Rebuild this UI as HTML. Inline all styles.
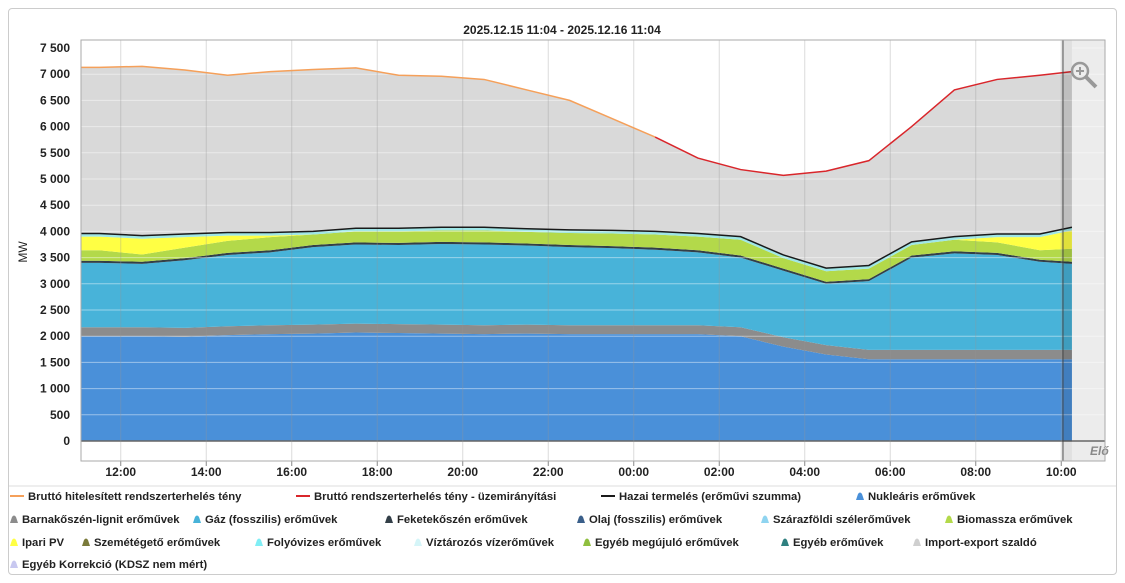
<!DOCTYPE html>
<html><head><meta charset="utf-8"><style>
body{margin:0;width:1125px;height:583px;background:#fff;font-family:"Liberation Sans",Arial,sans-serif;overflow:hidden}
#frame{position:absolute;left:8px;top:8px;width:1109px;height:567px;border:1px solid #ccc;border-radius:4px;box-sizing:border-box}
text{font-family:"Liberation Sans",Arial,sans-serif}
</style></head><body>
<div id="frame"></div>
<svg id="c" width="1125" height="583" style="position:absolute;left:0;top:0"></svg>
<script>
const hours=[0,1,2,3,4,5,6,7,8,9,10,11,12,13,14,15,16,17,18,19,20,21,22,23];
const tickLabels=["12:00","14:00","16:00","18:00","20:00","22:00","00:00","02:00","04:00","06:00","08:00","10:00"];
const tickHours=[1,3,5,7,9,11,13,15,17,19,21,23];
const yTicks=[0,500,1000,1500,2000,2500,3000,3500,4000,4500,5000,5500,6000,6500,7000,7500];
const load=[7130,7150,7080,6980,7050,7090,7120,6980,6960,6900,6700,6500,6150,5800,5400,5180,5070,5150,5350,6000,6700,6900,6980,7050];
const nuclear=[2000,2000,1990,2020,2040,2050,2070,2060,2050,2040,2050,2040,2040,2040,2040,2000,1800,1650,1560,1560,1560,1560,1560,1560];
const lignite=[170,170,170,170,170,170,170,170,170,170,170,170,170,170,170,170,180,180,180,180,180,180,180,180];
const gas=[1230,1210,1290,1360,1390,1480,1510,1510,1540,1540,1510,1490,1470,1440,1390,1330,1270,1170,1310,1760,1840,1810,1680,1640];
const hardcoal=[40,40,40,40,40,40,40,40,40,40,40,40,40,40,40,40,40,40,40,40,40,40,40,40];
const biomass=[200,140,200,230,250,200,210,220,220,230,220,230,240,250,260,300,200,200,200,200,220,200,180,250];
const pv=[260,300,200,100,30,0,0,0,0,0,0,0,0,0,0,0,0,0,0,0,0,100,250,350];
const wind=[60,60,60,60,60,60,60,60,60,60,60,60,60,60,60,60,60,60,60,60,60,60,60,60];
const domestic=[3960,3920,3950,3980,3980,4000,4060,4060,4080,4080,4050,4030,4020,4000,3960,3900,3550,3300,3350,3800,3900,3950,3950,4080];

const NS="http://www.w3.org/2000/svg";
const svg=document.getElementById('c');
const PL=81,PR=1105,PT=40,PB=461,END=23.25;
function x(h){return Math.max(PL,78+Math.min(h,END)*42.75);}
function y(v){return 441-v*393/7500;}
function mk(tag,attrs,parent){const e=document.createElementNS(NS,tag);for(const k in attrs)e.setAttribute(k,attrs[k]);(parent||svg).appendChild(e);return e;}
function pts(vals){let p=[[x(0),y(vals[0])]];for(let i=0;i<hours.length;i++){p.push([x(hours[i]+0.5),y(vals[i])]);}p.push([x(END),y(vals[vals.length-1])]);return p;}

let t=mk('text',{x:562,y:34,'text-anchor':'middle','font-size':12,'font-weight':'bold',fill:'#222'});
t.textContent="2025.12.15 11:04 - 2025.12.16 11:04";

mk('rect',{x:PL,y:PT,width:PR-PL,height:PB-PT,fill:'#fff',stroke:'#bbb'});
const fut=mk('rect',{x:x(END),y:PT,width:PR-x(END),height:PB-PT,fill:'#ececec'});


const layers=[[nuclear,'#4a90d9','nuclear-area'],[lignite,'#8c8c8c','lignite-area'],[gas,'#48b3d9','gas-area'],[hardcoal,'#333f48','hardcoal-area'],[biomass,'#b3d94a','biomass-area'],[pv,'#ffff44','pv-area'],[wind,'#9fe6e6','wind-area']];
let base=hours.map(()=>0);
(function(){const top=pts(load),bot=pts(domestic).reverse();
const p=mk('polygon',{points:top.concat(bot).map(a=>a.join(',')).join(' '),fill:'#d9d9d9'});
})();
layers.forEach(([vals,col,name])=>{
  const top=vals.map((v,i)=>base[i]+v);
  const pp=pts(top).concat(pts(base).reverse());
  const p=mk('polygon',{points:pp.map(a=>a.join(',')).join(' '),fill:col});
  
  base=top;
});
yTicks.forEach(v=>{mk('line',{x1:PL,x2:PR,y1:y(v),y2:y(v),stroke:'rgba(255,255,255,0.45)'});
 const l=mk('text',{x:70,y:y(v)+4,'text-anchor':'end','font-size':12,'font-weight':'bold',fill:'#222'});l.textContent=v===0?'0':(v>=1000?Math.floor(v/1000)+' '+String(v%1000).padStart(3,'0'):String(v));
 });
mk('line',{x1:PL,x2:PR,y1:441,y2:441,stroke:'#666','stroke-width':1.5});
tickHours.forEach((h,i)=>{mk('line',{x1:x(h),x2:x(h),y1:PT,y2:PB,stroke:'rgba(150,150,150,0.35)'});
 mk('line',{x1:x(h),x2:x(h),y1:PB,y2:PB+5,stroke:'#888'});
 const l=mk('text',{x:x(h),y:476,'text-anchor':'middle','font-size':12,'font-weight':'bold',fill:'#222'});l.textContent=tickLabels[i];
 });
function line(vals,col,name,from,to){const p=pts(vals).slice(from,to);
 const e=mk('polyline',{points:p.map(a=>a.join(',')).join(' '),fill:'none',stroke:col,'stroke-width':1.5});
 }
line(load,'#f5a05a','load-certified-line',0,15);
line(load,'#d9262b','load-operational-line',14,26);
line(domestic,'#1a1a1a','domestic-generation-line',0,26);
mk('rect',{x:x(END)-9,y:PT,width:9,height:PB-PT,fill:'rgba(0,0,0,0.12)'});
mk('line',{x1:x(END)-9,x2:x(END)-9,y1:PT,y2:PB,stroke:'#444'});
let e=mk('text',{x:1090,y:455,'font-size':12,'font-weight':'bold','font-style':'italic',fill:'#888'});e.textContent='Elő';
mk('rect',{x:PL,y:PT,width:PR-PL,height:PB-PT,fill:'none',stroke:'#aaa'});
const g=mk('g',{});
mk('circle',{cx:1080,cy:71,r:8,fill:'none',stroke:'#999','stroke-width':2.5},g);
mk('line',{x1:1086,y1:77,x2:1096,y2:87,stroke:'#999','stroke-width':4},g);
mk('line',{x1:1076,y1:71,x2:1084,y2:71,stroke:'#999','stroke-width':2},g);
mk('line',{x1:1080,y1:67,x2:1080,y2:75,stroke:'#999','stroke-width':2},g);
e=mk('text',{x:27,y:252,'font-size':12,fill:'#222',transform:'rotate(-90 27 252)','text-anchor':'middle'});e.textContent='MW';

mk('line',{x1:9,x2:1116,y1:486,y2:486,stroke:'#ddd'});
const legend=[
[0,10,'line','#f5a05a','Bruttó hitelesített rendszerterhelés tény'],[0,296,'line','#d9262b','Bruttó rendszerterhelés tény - üzemirányítási'],[0,601,'line','#1a1a1a','Hazai termelés (erőművi szumma)'],[0,856,'area','#4a90d9','Nukleáris erőművek'],
[1,10,'area','#8c8c8c','Barnakőszén-lignit erőművek'],[1,193,'area','#48b3d9','Gáz (fosszilis) erőművek'],[1,385,'area','#333f48','Feketekőszén erőművek'],[1,577,'area','#3a5f8a','Olaj (fosszilis) erőművek'],[1,761,'area','#8fd4f0','Szárazföldi szélerőművek'],[1,945,'area','#b3d94a','Biomassza erőművek'],
[2,10,'area','#ffff44','Ipari PV'],[2,82,'area','#7a7a3a','Szemétégető erőművek'],[2,255,'area','#80eef5','Folyóvizes erőművek'],[2,414,'area','#d5f5f8','Víztározós vízerőművek'],[2,583,'area','#8fbf3f','Egyéb megújuló erőművek'],[2,781,'area','#2f8080','Egyéb erőművek'],[2,913,'area','#cfcfcf','Import-export szaldó'],
[3,10,'area','#c8c8f0','Egyéb Korrekció (KDSZ nem mért)']];
const rowY=[500,523,546,568];
legend.forEach(([r,lx,type,col,txt])=>{
 const gg=mk('g',{});
 const cy=rowY[r]-4;
 if(type==='line')mk('line',{x1:lx,x2:lx+14,y1:cy,y2:cy,stroke:col,'stroke-width':2},gg);
 else mk('path',{d:`M${lx} ${cy+4} L${lx+2} ${cy-2} Q${lx+4} ${cy-5} ${lx+6} ${cy-2} L${lx+8} ${cy+4} Z`,fill:col},gg);
 const tx=mk('text',{x:lx+(type==='line'?18:12),y:rowY[r],'font-size':11.3,'font-weight':'bold',fill:'#222'},gg);tx.textContent=txt;
});
</script>
</body></html>
